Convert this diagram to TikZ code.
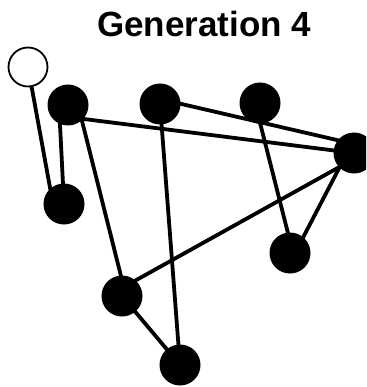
\documentclass[tikz,border=0pt]{standalone}
\usepackage{fontspec}
\setmainfont{Liberation Sans}
\usetikzlibrary{calc,backgrounds}
\tikzset{
  dot/.style={circle,fill=black,draw=none,minimum size=41pt,inner sep=0pt},
  hollow/.style={circle,fill=white,draw=black,line width=1.8pt,minimum size=39pt,inner sep=0pt},
  edge/.style={line width=3.8pt,black},
  title/.style={font=\bfseries\fontsize{35}{40}\selectfont,inner sep=0pt,anchor=base}
}
\begin{document}
\begin{tikzpicture}[x=1pt,y=-1pt]
\useasboundingbox (0,0) rectangle (366,387);
\clip (0,0) rectangle (366,387);
\node[title] (t) at (204,37) {Generation 4};
\node[hollow] (O) at (28,67) {};
\node[dot] (A) at (68,105) {};
\node[dot] (B) at (160,104) {};
\node[dot] (C) at (260,103) {};
\node[dot] (D) at (354,153) {};
\node[dot] (E) at (64,204) {};
\node[dot] (F) at (290,253) {};
\node[dot] (G) at (122,296) {};
\node[dot] (H) at (180,365) {};
\begin{pgfonlayer}{background}
\draw[edge] (O.center) -- ($(E)+(-11,0)$);
\draw[edge] ($(A)+(-9,0)$) -- (E.center);
\draw[edge] ($(A)+(0,12)$) -- (D.center);
\draw[edge] ($(A)+(10,0)$) -- ($(G)+(4,0)$);
\draw[edge] ($(B)+(0,-5)$) -- ($(D)+(0,-9)$);
\draw[edge] (B.center) -- (H.center);
\draw[edge] ($(C)+(-5,0)$) -- ($(F)+(3,0)$);
\draw[edge] ($(D)+(-7,0)$) -- ($(F)+(5,0)$);
\draw[edge] ($(D)+(-2,7)$) -- ($(G)+(0,-8)$);
\draw[edge] (G.center) -- (H.center);
\end{pgfonlayer}
\end{tikzpicture}
\end{document}
